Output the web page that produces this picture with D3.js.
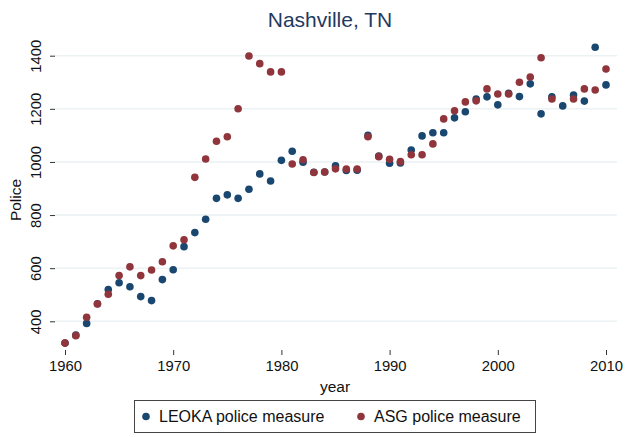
<!DOCTYPE html>
<html><head><meta charset="utf-8">
<script src="https://cdn.jsdelivr.net/npm/d3@7"></script>
<style>body{margin:0;background:#fff}svg{display:block;font-family:"Liberation Sans",Arial,sans-serif}</style>
</head><body><svg id="c" width="626" height="437"></svg>
<script>
const years = d3.range(1960, 2011);
const leoka = [318,348,392,466,520,545,530,493,478,557,594,681,734,784,863,876,863,897,955,928,1006,1040,999,961,962,985,968,969,1100,1022,995,996,1045,1098,1110,1110,1166,1189,1237,1245,1215,1258,1246,1294,1181,1245,1211,1252,1229,1432,1290];
const asg = [318,346,415,465,502,572,605,572,593,624,684,707,942,1011,1078,1095,1200,1399,1370,1339,1339,992,1008,960,962,974,973,973,1095,1020,1010,1001,1027,1027,1068,1162,1193,1226,1230,1275,1256,1256,1300,1320,1392,1237,null,1237,1275,1271,1350];
const yTicks = [400,600,800,1000,1200,1400];
const xTicks = [1960,1970,1980,1990,2000,2010];
const seriesNames = ["LEOKA police measure","ASG police measure"];
const colors = ["#1a476f","#90353b"];

const svg = d3.select("#c");
const x = d3.scaleLinear().domain([1960,2010]).range([65,606]);
const y = d3.scaleLinear().domain([400,1400]).range([321.3,55.7]);

// grid
svg.append("g").selectAll("line").data(yTicks).join("line")
  .attr("x1",55).attr("x2",617).attr("y1",d=>y(d)).attr("y2",d=>y(d))
  .attr("stroke","#eaf2f3").attr("stroke-width",1.6);

// y axis
const ya = svg.append("g").attr("transform","translate(55,0)")
  .call(d3.axisLeft(y).tickValues(yTicks).tickSize(5).tickPadding(4).tickFormat(d3.format("d")));
ya.select(".domain").remove();
ya.selectAll(".tick line").attr("stroke","#333");
ya.selectAll(".tick text")
  .attr("x",0).attr("y",0).attr("font-size",14.8).attr("fill","#111")
  .attr("text-anchor","middle")
  .attr("transform","translate(-19,0) rotate(-90)")
  .attr("dy","0.35em");

// x axis
const xa = svg.append("g").attr("transform","translate(0,350)")
  .call(d3.axisBottom(x).tickValues(xTicks).tickSize(5).tickPadding(5).tickFormat(d3.format("d")));
xa.select(".domain").remove();
xa.selectAll(".tick line").attr("stroke","#333");
xa.selectAll(".tick text").attr("font-size",14.8).attr("fill","#111");

// points
const data = [leoka, asg];
data.forEach((vals,i)=>{
  svg.append("g").selectAll("circle")
    .data(years.map((yr,j)=>({yr,v:vals[j]})).filter(d=>d.v!=null))
    .join("circle")
    .attr("cx",d=>x(d.yr)).attr("cy",d=>y(d.v)).attr("r",3.8)
    .attr("fill",colors[i]);
});

// title & labels
svg.append("text").attr("x",330).attr("y",27).attr("text-anchor","middle")
  .attr("font-size",21).attr("fill","#1f3a60").text("Nashville, TN");
svg.append("text").attr("x",335).attr("y",392).attr("text-anchor","middle")
  .attr("font-size",15.5).attr("fill","#111").text("year");
svg.append("text").attr("transform","translate(21,200) rotate(-90)").attr("text-anchor","middle")
  .attr("font-size",15.5).attr("fill","#111").text("Police");

// legend
const lg = svg.append("g");
lg.append("rect").attr("x",134.5).attr("y",400.5).attr("width",401).attr("height",32)
  .attr("fill","#fff").attr("stroke","#444").attr("stroke-width",1);
const lx = [146,361];
seriesNames.forEach((n,i)=>{
  lg.append("circle").attr("cx",lx[i]).attr("cy",416.5).attr("r",3.8).attr("fill",colors[i]);
  lg.append("text").attr("x",lx[i]+13).attr("y",422).attr("font-size",16).attr("fill","#111").text(n);
});
</script></body></html>
